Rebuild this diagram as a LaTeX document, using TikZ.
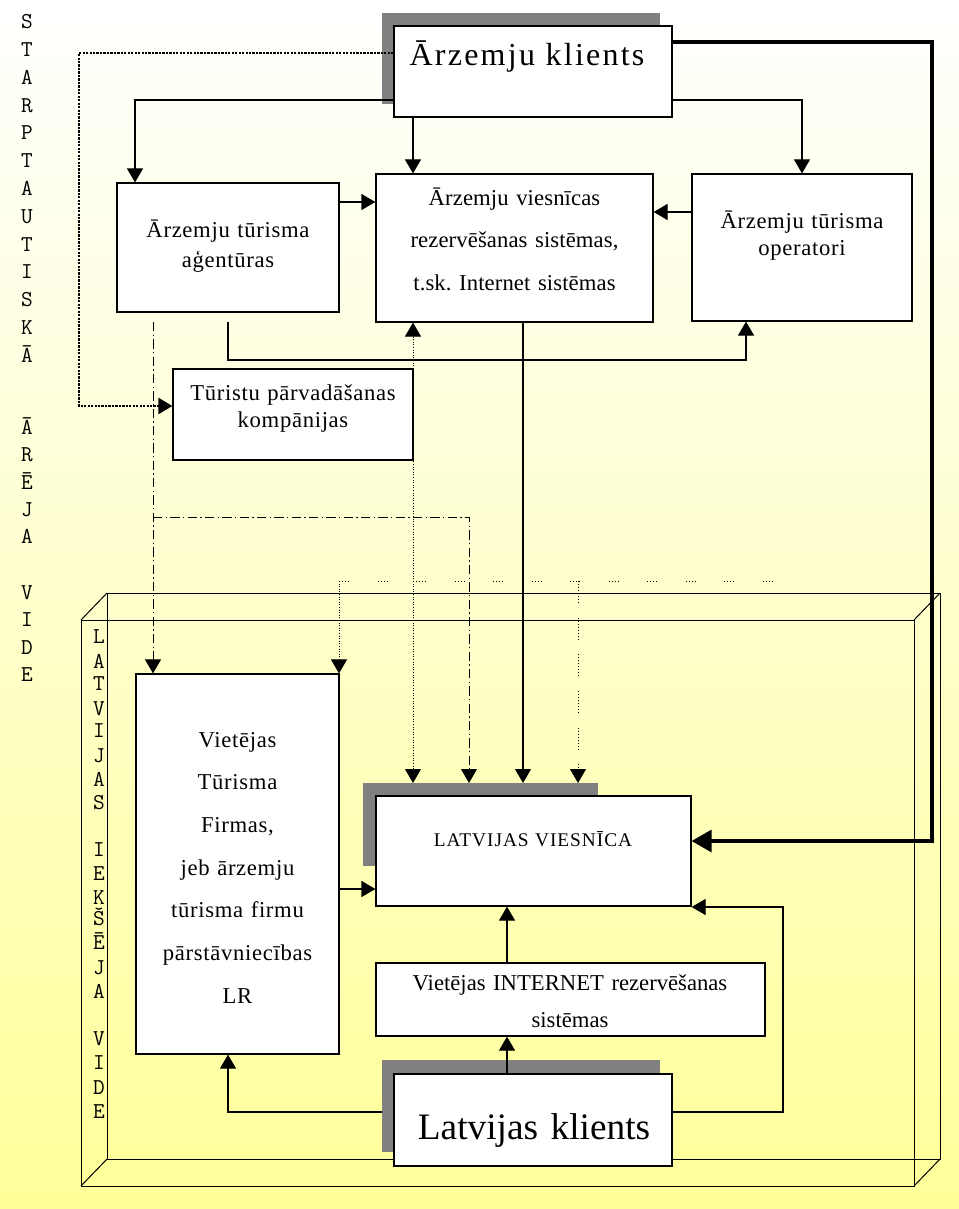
\documentclass[tikz,border=0pt]{standalone}
\usepackage{fontspec}
\setmainfont{Liberation Serif}[LetterSpace=3]
\usetikzlibrary{arrows.meta}
\definecolor{bgyellow}{HTML}{FFFF99}
\definecolor{shadowgray}{HTML}{808080}
\frenchspacing

\begin{document}
\begin{tikzpicture}[x=0.75pt,y=-0.75pt,>={Triangle[length=10.5pt,width=12pt]}]
		\useasboundingbox (0,0) rectangle (959,1209);
		\begin{scope}[scale=1]
		
		\tikzstyle{mybox}=[rectangle,
		draw=black,
		fill=white,
		line width=0.9pt,
		inner sep=0pt
		]
		\tikzstyle{myshadow}=[rectangle, fill=shadowgray, draw=none, inner sep=0pt, outer sep=0pt]
		\tikzstyle{mytext}=[anchor=base, inner sep=0pt, align=center]
		\tikzstyle{myletter}=[inner sep=0pt, text height=10pt, text depth=0pt, font=\ttfamily\fontsize{17pt}{18pt}\selectfont]
		\tikzstyle{myline}=[line width=0.9pt]
		\tikzstyle{bigarrow}=[line width=2.5pt, -{Triangle[length=15pt,width=16.5pt]}]
		\tikzstyle{bolddots}=[line width=1.7pt, dash pattern=on 1.7pt off 0.9pt]
		\tikzstyle{finedots}=[line width=0.75pt, dash pattern=on 0.75pt off 1.2pt]
		\tikzstyle{dashdots}=[line width=0.75pt, dash pattern=on 7pt off 2.5pt on 1pt off 2.5pt]
		\tikzstyle{sparsedots}=[line width=0.75pt, dash pattern=on 0.75pt off 1.5pt on 0.75pt off 1.5pt on 0.75pt off 1.5pt on 0.75pt off 21.4pt]
		\tikzstyle{dotruns}=[line width=0.75pt, dash pattern=on 0.75pt off 1.5pt on 0.75pt off 1.5pt on 0.75pt off 1.5pt on 0.75pt off 1.5pt on 0.75pt off 1.5pt on 0.75pt off 1.5pt on 0.75pt off 1.5pt on 0.75pt off 11pt]
		\tikzstyle{frame}=[line width=0.75pt]
		
		% background
		\shade[top color=white, bottom color=bgyellow] (0,0) rectangle (959,1209);
		
		% inner environment
		\draw[frame] (107,593) rectangle (940,1159);
		\draw[frame] (81,620) rectangle (914,1186);
		\draw[frame] (81,620) -- (107,593);
		\draw[frame] (914,620) -- (940,593);
		\draw[frame] (81,1186) -- (107,1159);
		\draw[frame] (914,1186) -- (940,1159);
		
		\coordinate (pka) at (533,71.5);
		\coordinate (pkas) at (521,58.5);
		\coordinate (pata) at (228,247.5);
		\coordinate (pvrs) at (514.5,248);
		\coordinate (pato) at (802,247.5);
		\coordinate (ptpk) at (293,414.5);
		\coordinate (pvtf) at (237.5,864);
		\coordinate (plv) at (533.5,851);
		\coordinate (plvs) at (480.5,824.5);
		\coordinate (pvirs) at (570.5,999.5);
		\coordinate (plk) at (533,1120);
		\coordinate (plks) at (521,1106);
		
		\node[myshadow, minimum width=208.5pt, minimum height=68.25pt] (kas) at (pkas) {};
		\node[myshadow, minimum width=176.25pt, minimum height=62.25pt] (lvs) at (plvs) {};
		\node[myshadow, minimum width=208.5pt, minimum height=69pt] (lks) at (plks) {};
		
		\node[mybox, minimum width=208.5pt, minimum height=68.25pt] (ka) at (pka) {};
		\node[mybox, minimum width=166.5pt, minimum height=96.75pt] (ata) at (pata) {};
		\node[mybox, minimum width=207.75pt, minimum height=111pt] (vrs) at (pvrs) {};
		\node[mybox, minimum width=165pt, minimum height=110.25pt] (ato) at (pato) {};
		\node[mybox, minimum width=180pt, minimum height=68.25pt] (tpk) at (ptpk) {};
		\node[mybox, minimum width=152.25pt, minimum height=285pt] (vtf) at (pvtf) {};
		\node[mybox, minimum width=236.25pt, minimum height=82.5pt] (lv) at (plv) {};
		\node[mybox, minimum width=291.75pt, minimum height=54.75pt] (virs) at (pvirs) {};
		\node[mybox, minimum width=208.5pt, minimum height=69pt] (lk) at (plk) {};
		
		% connectors
		\coordinate (thk1) at (932,42);
		\coordinate (thk2) at (932,841);
		\draw[bigarrow] (ka.east |- thk1) -- (thk1) -- (thk2) -- (lv.east |- thk2);
		
		\coordinate (dt1) at (79,53);
		\coordinate (dt2) at (79,406);
		\draw[bolddots,->] (ka.west |- dt1) -- (dt1) -- (dt2) -- (tpk.west |- dt2);
		
		\coordinate (c1) at (135,100);
		\draw[myline,->] (ka.west |- c1) -- (c1) -- (ata.north -| c1);
		\coordinate (c2) at (413,117);
		\draw[myline,->] (ka.south -| c2) -- (vrs.north -| c2);
		\coordinate (c3) at (802,100);
		\draw[myline,->] (ka.east |- c3) -- (c3) -- (ato.north);
		\coordinate (c4) at (0,202);
		\draw[myline,->] (ata.east |- c4) -- (vrs.west |- c4);
		\coordinate (c5) at (0,212);
		\draw[myline,->] (ato.west |- c5) -- (vrs.east |- c5);
		\coordinate (c6) at (228,322);
		\coordinate (c7) at (228,360);
		\coordinate (c8) at (746,360);
		\draw[myline,->] (c6) -- (c7) -- (c8) -- (ato.south -| c8);
		\coordinate (c9) at (523,0);
		\draw[myline,->] (vrs.south -| c9) -- (lvs.north -| c9);
		\coordinate (c10) at (413,0);
		\draw[finedots,<->] (lvs.north -| c10) -- (vrs.south -| c10);
		
		\coordinate (dd1) at (153,322);
		\coordinate (dd2) at (153,517);
		\coordinate (dd3) at (469,517);
		\draw[dashdots,->] (dd1) -- (vtf.north -| dd1);
		\draw[dashdots,->] (dd2) -- (dd3) -- (lvs.north -| dd3);
		
		\coordinate (sp1) at (339,581);
		\coordinate (sp2) at (777,581);
		\coordinate (sp3) at (578,581);
		\draw[sparsedots] (sp1) -- (sp2);
		\draw[finedots,->] (sp1) -- (vtf.north -| sp1);
		\draw[dotruns,->] (sp3) -- (lvs.north -| sp3);
		
		\coordinate (c11) at (0,889);
		\draw[myline,->] (vtf.east |- c11) -- (lv.west |- c11);
		\coordinate (c12) at (507,0);
		\draw[myline,->] (virs.north -| c12) -- (lv.south -| c12);
		\draw[myline,->] (lk.north -| c12) -- (virs.south -| c12);
		\coordinate (c13) at (228,1112);
		\draw[myline,->] (lks.west |- c13) -- (c13) -- (vtf.south -| c13);
		\coordinate (c14) at (783,1112);
		\coordinate (c15) at (783,907);
		\draw[myline,->] (lk.east |- c14) -- (c14) -- (c15) -- (lv.east |- c15);
		
		% texts
		\node[mytext, text width=208pt, font=\fontsize{24pt}{28pt}\selectfont\addfontfeature{LetterSpace=7}] (katext) at (527,66) {Ārzemju klients};
		\node[mytext, text width=166pt, font=\fontsize{17pt}{22.5pt}\selectfont] (atatext) at (228,237) {Ārzemju tūrisma\\aģentūras};
		\node[mytext, text width=207pt, font=\fontsize{17pt}{31.9pt}\selectfont\addfontfeature{LetterSpace=0.5}] (vrstext) at (514.5,205) {Ārzemju viesnīcas\\rezervēšanas sistēmas,\\t.sk. Internet sistēmas};
		\node[mytext, text width=165pt, font=\fontsize{17pt}{20.25pt}\selectfont] (atotext) at (802,228) {Ārzemju tūrisma\\operatori};
		\node[mytext, text width=180pt, font=\fontsize{17pt}{20.25pt}\selectfont] (tpktext) at (293,400) {Tūristu pārvadāšanas\\kompānijas};
		\node[mytext, text width=152pt, font=\fontsize{17pt}{32pt}\selectfont] (vtftext) at (237.5,747) {Vietējas\\Tūrisma\\Firmas,\\jeb ārzemju\\tūrisma firmu\\pārstāvniecības\\LR};
		\node[mytext, text width=236pt, font=\fontsize{14.5pt}{17pt}\selectfont\addfontfeature{LetterSpace=5}] (lvtext) at (533,846) {LATVIJAS VIESNĪCA};
		\node[mytext, text width=291pt, font=\fontsize{17pt}{27.75pt}\selectfont\addfontfeature{LetterSpace=0}] (virstext) at (570,990) {Vietējas INTERNET rezervēšanas\\sistēmas};
		\node[mytext, text width=208pt, font=\fontsize{28pt}{32pt}\selectfont\addfontfeature{LetterSpace=0}] (lktext) at (534,1139) {Latvijas klients};
		
		% vertical captions
		\foreach \ch/\yy [count=\i] in {S/22,T/50,A/78,R/106,P/133,T/161,A/189,U/217,T/245,I/272,S/300,K/328,Ā/356,Ā/428,R/455,Ē/483,J/510,A/537,V/593,I/620,D/648,E/675}
		\node[myletter] (outer\i) at (27,\yy) {\ch};
		\foreach \ch/\yy [count=\i] in {L/637,A/662,T/684,V/709,I/731,J/756,A/780,S/803,I/850,E/874,K/898,Š/919,Ē/943,J/968,A/992,V/1039,I/1063,D/1088,E/1112}
		\node[myletter] (inner\i) at (99,\yy) {\ch};
		
		\end{scope}
		\end{tikzpicture}
\end{document}
